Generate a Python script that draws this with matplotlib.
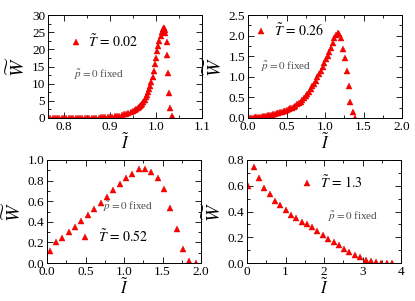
import matplotlib
matplotlib.use('Agg')
import matplotlib.pyplot as plt
from matplotlib.ticker import MultipleLocator

plt.rcParams['font.family'] = ['Liberation Serif', 'DejaVu Serif']
plt.rcParams['mathtext.fontset'] = 'stix'

# panel 1, T = 0.02
I_1 = [0.770, 0.775, 0.780, 0.785, 0.790, 0.795, 0.800, 0.805, 0.810, 0.815,
       0.820, 0.825, 0.830, 0.835, 0.840, 0.845, 0.850, 0.855, 0.860, 0.865,
       0.870, 0.875, 0.880, 0.885, 0.890, 0.895, 0.900, 0.905, 0.910, 0.915,
       0.920, 0.925, 0.930, 0.935, 0.940, 0.945, 0.950, 0.955,
       0.9575, 0.960, 0.9625, 0.965, 0.9675, 0.970, 0.9725, 0.975, 0.9775,
       0.980, 0.9825, 0.985, 0.9875, 0.990, 0.9925, 0.995, 0.9975, 1.000,
       1.0025, 1.005, 1.0075, 1.010, 1.0125, 1.015, 1.0165, 1.0175, 1.0185,
       1.0195, 1.023, 1.024, 1.027, 1.029, 1.031, 1.034, 1.037]
W_1 = [0.00, 0.00, 0.00, 0.00, 0.01, 0.01, 0.01, 0.01, 0.01, 0.02,
       0.02, 0.02, 0.03, 0.03, 0.04, 0.05, 0.06, 0.07, 0.08, 0.10,
       0.12, 0.14, 0.17, 0.20, 0.24, 0.29, 0.35, 0.42, 0.50, 0.60,
       0.72, 0.86, 1.03, 1.23, 1.47, 1.75, 2.08, 2.47,
       2.70, 2.93, 3.20, 3.47, 3.77, 4.10, 4.60, 5.30, 6.00,
       6.70, 7.60, 8.50, 9.40, 10.6, 12.0, 13.8, 15.6, 17.6,
       19.5, 21.0, 22.5, 23.8, 25.0, 25.9, 26.1, 26.2, 25.7,
       24.9, 22.1, 18.4, 13.1, 7.4, 2.9, 0.5, 0.05]

# panel 2, T = 0.26
I_2 = [0.000, 0.022, 0.044, 0.066, 0.088, 0.110, 0.132, 0.154, 0.176, 0.198,
       0.220, 0.242, 0.264, 0.286, 0.308, 0.330, 0.352, 0.374, 0.396, 0.418,
       0.440, 0.462, 0.484, 0.506, 0.528, 0.550, 0.572, 0.594, 0.616, 0.638,
       0.660, 0.682, 0.704, 0.726, 0.748, 0.770, 0.792, 0.814, 0.836, 0.858,
       0.880, 0.902, 0.924, 0.946, 0.968, 0.990, 1.012, 1.034, 1.056, 1.078,
       1.100, 1.122, 1.144, 1.166, 1.188, 1.205, 1.235, 1.265, 1.290, 1.310,
       1.330, 1.360, 1.385]
W_2 = [0.000, 0.003, 0.006, 0.009, 0.013, 0.017, 0.022, 0.027, 0.033, 0.040,
       0.047, 0.055, 0.063, 0.072, 0.081, 0.091, 0.102, 0.113, 0.125, 0.138,
       0.151, 0.165, 0.180, 0.196, 0.213, 0.232, 0.253, 0.276, 0.301, 0.330,
       0.362, 0.398, 0.438, 0.483, 0.532, 0.585, 0.642, 0.703, 0.768, 0.836,
       0.908, 0.984, 1.064, 1.148, 1.236, 1.327, 1.420, 1.514, 1.608, 1.700,
       1.832, 1.940, 2.020, 2.060, 2.040, 1.950, 1.680, 1.450, 1.130, 0.770,
       0.400, 0.145, 0.010]

# panel 3, T = 0.52
I_3 = [0.035, 0.117, 0.200, 0.283, 0.365, 0.448, 0.530, 0.613, 0.696, 0.778,
       0.860, 0.943, 1.025, 1.108, 1.190, 1.273, 1.355, 1.438, 1.520, 1.603,
       1.685, 1.768, 1.850, 1.933]
W_3 = [0.120, 0.200, 0.242, 0.297, 0.345, 0.403, 0.468, 0.523, 0.587, 0.645,
       0.710, 0.765, 0.830, 0.865, 0.910, 0.913, 0.884, 0.830, 0.716, 0.535,
       0.332, 0.135, 0.022, 0.000]

# panel 4, T = 1.3
I_4 = [0.035, 0.180, 0.310, 0.450, 0.590, 0.730, 0.870, 1.005, 1.145, 1.285,
       1.420, 1.555, 1.690, 1.830, 1.970, 2.110, 2.250, 2.385, 2.520, 2.660,
       2.800, 2.940, 3.080, 3.215, 3.350, 3.490, 3.630, 3.770]
W_4 = [0.597, 0.743, 0.657, 0.586, 0.534, 0.482, 0.448, 0.409, 0.375, 0.352,
       0.320, 0.300, 0.276, 0.248, 0.219, 0.190, 0.164, 0.138, 0.109, 0.086,
       0.065, 0.044, 0.023, 0.013, 0.005, 0.000, 0.000, 0.000]

temps = ['0.02', '0.26', '0.52', '1.3']

fig = plt.figure(figsize=(4.15, 3.01), dpi=100)
boxes = [(48, 15), (248, 15), (47, 160), (247, 160)]
W_AX, H_AX = 154, 103


def make_axes(left, top):
    return fig.add_axes([left / 415, (301 - top - H_AX) / 301, W_AX / 415, H_AX / 301])


def style(ax, xlim, ylim, xmaj, xmin, ymaj, ymin):
    ax.set_xlim(*xlim)
    ax.set_ylim(*ylim)
    ax.xaxis.set_major_locator(MultipleLocator(xmaj))
    ax.xaxis.set_minor_locator(MultipleLocator(xmin))
    ax.yaxis.set_major_locator(MultipleLocator(ymaj))
    ax.yaxis.set_minor_locator(MultipleLocator(ymin))
    ax.tick_params(which='both', direction='in', top=True, right=True,
                   labelsize=9.5, width=0.6, pad=2)
    ax.tick_params(which='major', length=4)
    ax.tick_params(which='minor', length=2)
    for s in ax.spines.values():
        s.set_linewidth(0.7)
    ax.set_xlabel(r'$\tilde{I}$', fontsize=12, labelpad=0)
    ax.set_ylabel(r'$\widetilde{W}$', fontsize=14, labelpad=2)


def add_marks(ax, x, y, temp, leg_xy, p_xy):
    ax.plot(x, y, '^', color='red', ms=4, mec='#dd0000', mew=0.3, ls='none',
            label=r'$\tilde{T}\,=\,' + temp + '$')
    ax.legend(loc='center left', bbox_to_anchor=leg_xy, frameon=False,
              fontsize=10, handlelength=1.0, handletextpad=0.4,
              borderpad=0, borderaxespad=0, numpoints=1)
    ax.text(p_xy[0], p_xy[1], r'$\tilde{p}=0$ fixed', transform=ax.transAxes,
            fontsize=8, color='0.3', va='center', ha='left')


ax1 = make_axes(*boxes[0])
add_marks(ax1, I_1, W_1, temps[0], (0.135, 0.74), (0.17, 0.42))
style(ax1, (0.765, 1.1), (0, 30), 0.1, 0.05, 5, 2.5)

ax2 = make_axes(*boxes[1])
add_marks(ax2, I_2, W_2, temps[1], (0.04, 0.85), (0.085, 0.50))
style(ax2, (0, 2), (0, 2.5), 0.5, 0.25, 0.5, 0.25)

ax3 = make_axes(*boxes[2])
add_marks(ax3, I_3, W_3, temps[2], (0.203, 0.26), (0.365, 0.547))
style(ax3, (0, 2), (0, 1), 0.5, 0.25, 0.2, 0.1)

ax4 = make_axes(*boxes[3])
add_marks(ax4, I_4, W_4, temps[3], (0.345, 0.78), (0.525, 0.45))
style(ax4, (0, 4), (0, 0.8), 1, 0.5, 0.2, 0.1)

fig.savefig('out.png', dpi=100)
